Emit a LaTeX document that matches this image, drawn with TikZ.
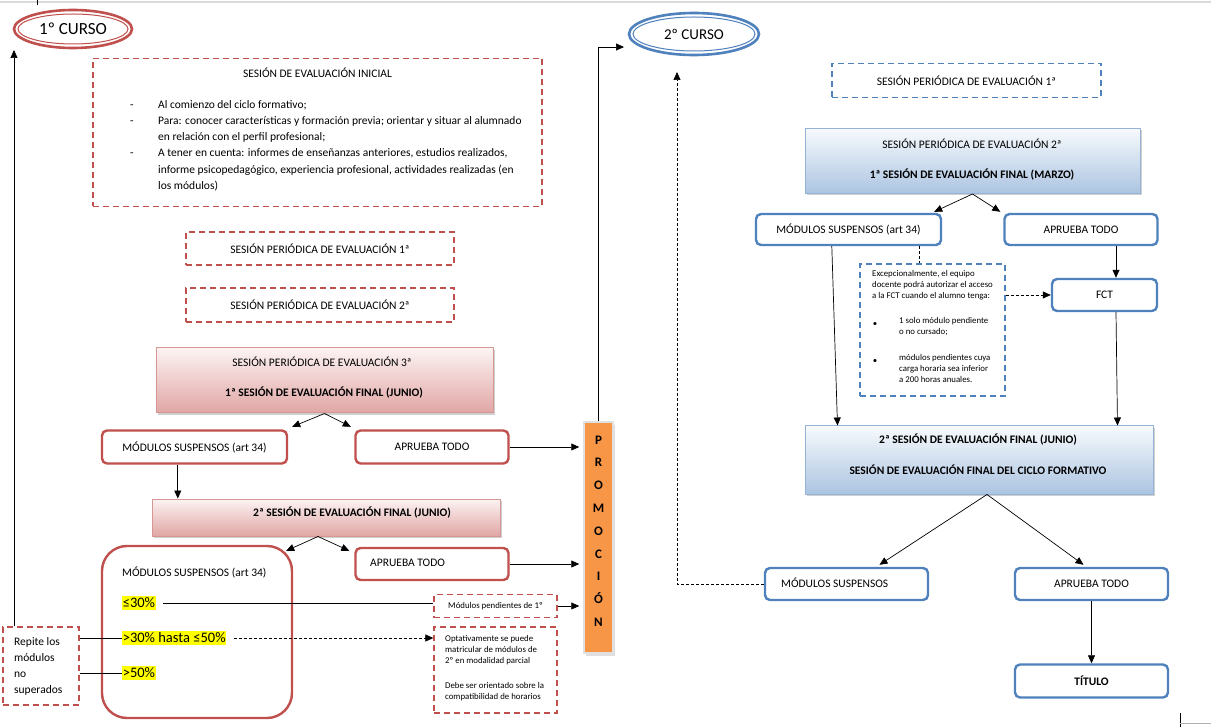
\documentclass[tikz,border=0pt]{standalone}
\usepackage{fontspec}
\setmainfont{Carlito}
\newfontfamily\dejavu{DejaVu Sans}
\usetikzlibrary{arrows.meta,calc,shadows,shapes.geometric}
\definecolor{myred}{RGB}{192,80,77}
\definecolor{myblue}{RGB}{79,129,189}
\definecolor{pinkTop}{RGB}{252,243,243}
\definecolor{pinkBot}{RGB}{224,166,164}
\definecolor{pinkLine}{RGB}{214,150,148}
\definecolor{blueTop}{RGB}{247,250,253}
\definecolor{blueBot}{RGB}{172,196,225}
\definecolor{blueLine}{RGB}{149,179,215}
\definecolor{myorange}{RGB}{247,150,70}
\definecolor{hl}{RGB}{255,255,0}
\newcommand\myN{\fontsize{11.5pt}{14pt}\selectfont}
\newcommand\myS{\fontsize{8.8pt}{11pt}\selectfont}
\newcommand\myP{\fontsize{14.5pt}{17pt}\selectfont}
\begin{document}
\begin{tikzpicture}[x=1pt,y=-1pt,
  txt/.style={inner sep=0pt, font=\myN},
  ell/.style={ellipse, inner sep=0pt, fill=white},
  redbox/.style={draw=myred, line width=2.4pt, rounded corners=5pt, fill=white, inner sep=0pt, font=\myN},
  bluebox/.style={draw=myblue, line width=2.4pt, rounded corners=5pt, fill=white, inner sep=0pt, font=\myN},
  reddash/.style={draw=myred, line width=1.3pt, dash pattern=on 6pt off 4pt, inner sep=0pt, font=\myN},
  bluedash/.style={draw=myblue, line width=1.3pt, dash pattern=on 6pt off 4pt, inner sep=0pt, font=\myN},
  pinkgrad/.style={draw=pinkLine, line width=1pt, top color=pinkTop, bottom color=pinkBot, inner sep=0pt,
     drop shadow={shadow xshift=1.5pt, shadow yshift=-2pt, opacity=.3, fill=black!60}},
  bluegrad/.style={draw=blueLine, line width=1pt, top color=blueTop, bottom color=blueBot, inner sep=0pt,
     drop shadow={shadow xshift=1.5pt, shadow yshift=-2pt, opacity=.3, fill=black!60}},
  hlt/.style={fill=hl, inner ysep=1.5pt, inner xsep=0.6pt, font=\myP, anchor=west},
  arr/.style={-{Triangle[length=8pt,width=7pt]}, line width=0.7pt},
  dasharr/.style={arr, dash pattern=on 3pt off 2pt},
  dline/.style={line width=0.7pt, dash pattern=on 3pt off 2pt}
]
\fill[white] (0,0) rectangle (1211,727);
\useasboundingbox (0,0) rectangle (1211,727);
\draw[gray!30, line width=1.5pt] (0,2) -- (1211,2);
\draw[line width=0.6pt] (37,0) -- (37,5);
\draw[line width=0.6pt] (1180,713) -- (1180,727);
\draw[gray!60, line width=0.6pt] (1180,723) -- (1211,723);

% ---------------- 1º CURSO ----------------
\node[ell, draw=myred, line width=2.6pt, minimum width=118pt, minimum height=38pt,
      font=\fontsize{17pt}{20pt}\selectfont] (c1) at (73,29) {1º CURSO};
\draw[myred, line width=1pt] (c1.center) ellipse [x radius=55pt, y radius=15pt];

\node[reddash, minimum width=449pt, minimum height=148pt] (ini) at (317.5,132.5) {};
\node[txt] (iniT) at (317.5,73) {SESIÓN DE EVALUACIÓN INICIAL};
\node[inner sep=0pt, anchor=north west, font=\fontsize{11.5pt}{16.3pt}\selectfont] (iniL) at (130,96.4) {%
\begin{tabular}{@{}p{28pt}@{}l@{}}
-& Al comienzo del ciclo formativo;\\
-& Para: conocer características y formación previa; orientar y situar al alumnado\\
 & en relación con el perfil profesional;\\
-& A tener en cuenta: informes de enseñanzas anteriores, estudios realizados,\\
 & informe psicopedagógico, experiencia profesional, actividades realizadas (en\\
 & los módulos)
\end{tabular}};

\node[reddash, minimum width=268pt, minimum height=33pt] (sp1) at (320,248.5) {SESIÓN PERIÓDICA DE EVALUACIÓN 1ª};
\node[reddash, minimum width=268pt, minimum height=34pt] (sp2) at (320,305) {SESIÓN PERIÓDICA DE EVALUACIÓN 2ª};

\node[pinkgrad, minimum width=337pt, minimum height=65pt] (sp3) at (324.5,380.5) {};
\node[txt] (sp3a) at (322,362) {SESIÓN PERIÓDICA DE EVALUACIÓN 3ª};
\node[txt, font=\myN\bfseries] (sp3b) at (324,393) {1ª SESIÓN DE EVALUACIÓN FINAL (JUNIO)};

\node[redbox, minimum width=185pt, minimum height=33pt] (ms1) at (194.5,447) {MÓDULOS SUSPENSOS (art 34)};
\node[redbox, minimum width=153pt, minimum height=33pt] (at1) at (432,447) {APRUEBA TODO};

\node[pinkgrad, minimum width=348pt, minimum height=37pt] (fin1) at (326,517.5) {};
\node[txt, font=\myN\bfseries] (fin1T) at (352,513) {2ª SESIÓN DE EVALUACIÓN FINAL (JUNIO)};

\node[redbox, rounded corners=25pt, minimum width=190pt, minimum height=172pt] (ms2) at (197,632) {};
\node[txt, anchor=west] (ms2T) at (122,572) {MÓDULOS SUSPENSOS (art 34)};
\node[hlt] (n1) at (122,603) {≤30\%};
\node[hlt] (n2) at (122,638) {>30\% hasta ≤50\%};
\node[hlt] (n3) at (122,673) {>50\%};

\node[redbox, minimum width=153pt, minimum height=32pt] (at2) at (432,564) {};
\node[txt, anchor=west] (at2T) at (370,563) {APRUEBA TODO};

\node[fill=myorange, draw=black!12, line width=1.5pt, inner sep=0pt, minimum width=29pt, minimum height=231pt,
      drop shadow={shadow xshift=2pt, shadow yshift=-3pt, opacity=.25, fill=black!50}] (prom) at (598.5,537.5) {};
\node[inner sep=0pt, align=center, font=\fontsize{13pt}{22.8pt}\selectfont\bfseries] (promT) at (598.5,531)
  {P\\R\\O\\M\\O\\C\\I\\Ó\\N};

\node[reddash, minimum width=123pt, minimum height=23pt, font=\myS] (pend) at (495.5,606) {Módulos pendientes de 1º};
\node[reddash, minimum width=123pt, minimum height=86pt] (opt) at (495.5,670) {};
\node[inner sep=0pt, anchor=north west, align=left, font=\myS] (optT) at (445,635.5)
  {Optativamente se puede\\matricular de módulos de\\2º en modalidad parcial\\[14pt]Debe ser orientado sobre la\\compatibilidad de horarios};

\node[reddash, minimum width=76pt, minimum height=78pt] (rep) at (41,666) {};
\node[inner sep=0pt, anchor=north west, align=left, font=\fontsize{11.5pt}{16pt}\selectfont] (repT) at (14,637.5)
  {Repite los\\módulos\\no\\superados};

% connectors left
\draw[arr] (sp3.south) -- ($(ms1.north east)+(4,-2.5)$);
\draw[arr] (sp3.south) -- ($(at1.north west)+(-3.5,-2.5)$);
\draw[arr] (at1.east) -- ($(at1.east -| prom.west)+(-4,0)$);
\coordinate (m1d) at ($(ms1.south west)+(77,0)$);
\draw[arr] (m1d) -- (m1d |- fin1.north);
\coordinate (fb) at ($(fin1.south)+(-8,0)$);
\draw[arr] (fb) -- ($(ms2.north east)+(-7,6)$);
\draw[arr] (fb) -- ($(at2.north west)+(-5,4)$);
\draw[arr] (at2.east) -- ($(at2.east -| prom.west)+(-4,0)$);
\draw[line width=0.7pt] ($(n1.east)+(7,0)$) -- (n1.east -| pend.west);
\draw[arr] (pend.east) -- ($(pend.east -| prom.west)+(-4,0)$);
\draw[dasharr] ($(n2.east)+(8,0)$) -- (n2.east -| opt.west);
\draw[line width=0.7pt] (rep.east |- n2.west) -- (n2.west);
\draw[line width=0.7pt] (rep.east |- n3.west) -- (n3.west);
\coordinate (c1tip) at (14,50);
\draw[arr] (rep.north -| c1tip) -- (c1tip);
\coordinate (c2in) at (624,47);
\draw[arr] (prom.north) |- (c2in);

% ---------------- 2º CURSO ----------------
\node[ell, draw=myblue, line width=2.6pt, minimum width=130pt, minimum height=42pt,
      font=\fontsize{15pt}{18pt}\selectfont] (c2) at (694,34) {2º CURSO};
\draw[myblue, line width=1pt] (c2.center) ellipse [x radius=61pt, y radius=17pt];

\node[bluedash, minimum width=269pt, minimum height=34pt] (rsp1) at (966.5,80.5) {SESIÓN PERIÓDICA DE EVALUACIÓN 1ª};

\node[bluegrad, minimum width=335pt, minimum height=65pt] (rsp2) at (972.5,161) {};
\node[txt] (rsp2a) at (972,144) {SESIÓN PERIÓDICA DE EVALUACIÓN 2ª};
\node[txt, font=\myN\bfseries] (rsp2b) at (972,175) {1ª SESIÓN DE EVALUACIÓN FINAL (MARZO)};

\node[bluebox, minimum width=185pt, minimum height=31pt] (rms1) at (848.5,229.5) {MÓDULOS SUSPENSOS (art 34)};
\node[bluebox, minimum width=153pt, minimum height=31pt] (rat1) at (1081,229.5) {APRUEBA TODO};

\node[bluedash, minimum width=145pt, minimum height=132pt] (note) at (932.5,330) {};
\node[inner sep=0pt, anchor=north west, align=left, font=\myS] (noteA) at (872,270.5)
  {Excepcionalmente, el equipo\\docente podrá autorizar el acceso\\a la FCT cuando el alumno tenga:};
\node[inner sep=0pt, font=\myS] (b1) at (875,324) {•};
\node[inner sep=0pt, anchor=north west, align=left, font=\myS] (noteB) at (899,317.5)
  {1 solo módulo pendiente\\o no cursado;};
\node[inner sep=0pt, font=\myS] (b2) at (875,361) {•};
\node[inner sep=0pt, anchor=north west, align=left, font=\myS] (noteC) at (899,354.5)
  {módulos pendientes cuya\\carga horaria sea inferior\\a 200 horas anuales.};

\node[bluebox, minimum width=105pt, minimum height=32pt] (fct) at (1104.5,295) {FCT};

\node[bluegrad, minimum width=348pt, minimum height=68pt] (rfin) at (979,460) {};
\node[txt, font=\myN\bfseries] (rfinA) at (978,440) {2ª SESIÓN DE EVALUACIÓN FINAL (JUNIO)};
\node[txt, font=\myN\bfseries] (rfinB) at (978,470) {SESIÓN DE EVALUACIÓN FINAL DEL CICLO FORMATIVO};

\node[bluebox, minimum width=163pt, minimum height=32pt] (ms3) at (846.5,584) {};
\node[txt, anchor=west] (ms3T) at (781,583) {MÓDULOS SUSPENSOS};
\node[bluebox, minimum width=153pt, minimum height=32pt] (at3) at (1091.5,584) {APRUEBA TODO};
\node[bluebox, minimum width=153pt, minimum height=33pt, font=\myN\bfseries] (tit) at (1091.5,681) {TÍTULO};

% connectors right
\draw[arr] (rsp2.south) -- ($(rms1.north east)+(-8,-1)$);
\draw[arr] (rsp2.south) -- ($(rat1.north west)+(-3,-1)$);
\coordinate (r1d) at ($(rms1.south east)+(-23,0)$);
\draw[dline] (r1d) -- (r1d |- note.north);
\draw[dasharr] (note.east |- fct.west) -- (fct.west);
\draw[arr] ($(rat1.south)+(35,0)$) -- ($(fct.north)+(11.5,0)$);
\draw[arr] ($(rms1.south west)+(77,0)$) -- ($(rfin.north west)+(33,0)$);
\draw[arr] ($(fct.south)+(11.5,0)$) -- ($(rfin.north east)+(-36,0)$);
\coordinate (rb) at ($(rfin.south)+(8,0)$);
\draw[arr] (rb) -- ($(ms3.north)+(33,-2)$);
\draw[arr] (rb) -- ($(at3.north)+(-8,-2)$);
\draw[arr] (at3.south) -- (tit.north);
\coordinate (c2tip) at (677,72);
\draw[dasharr] (ms3.west) -| (c2tip);
\end{tikzpicture}
\end{document}
